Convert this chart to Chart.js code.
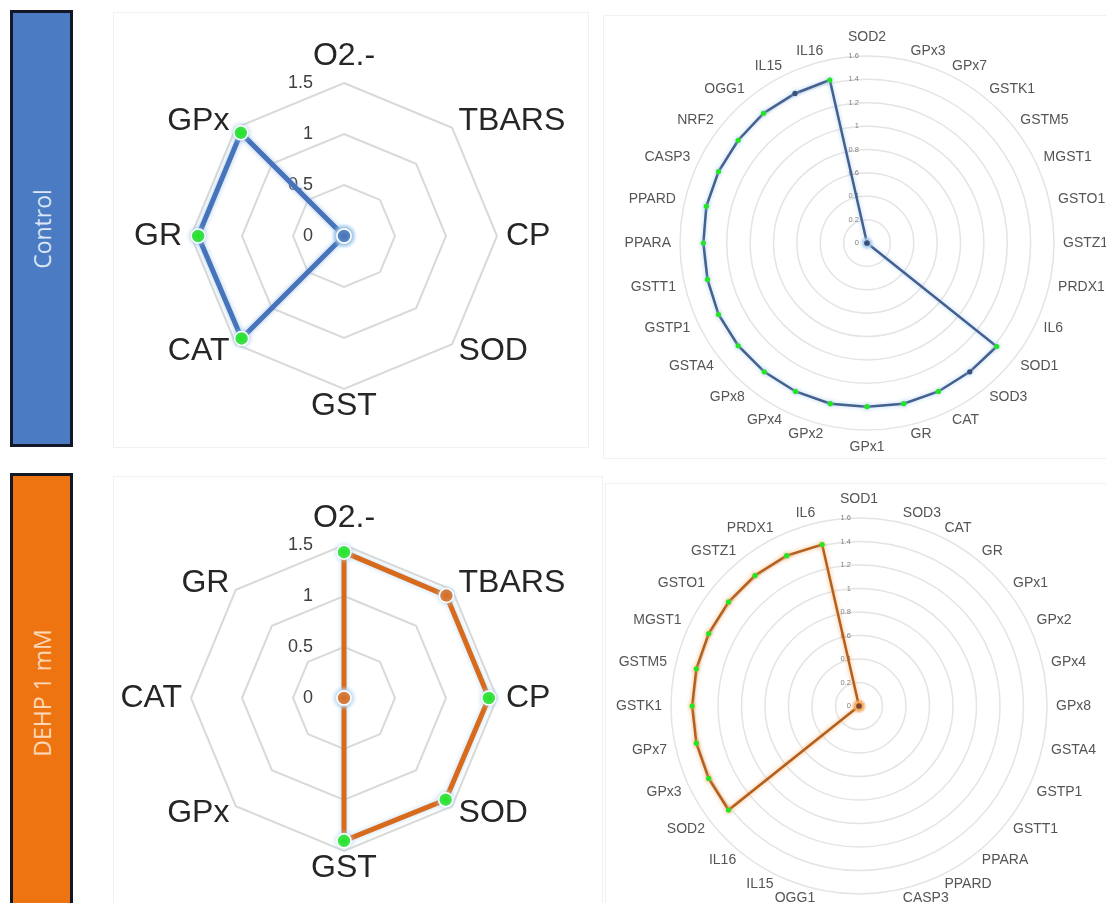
<!DOCTYPE html>
<html>
<head>
<meta charset="utf-8">
<script src="https://cdn.jsdelivr.net/npm/chart.js@4.4.1/dist/chart.umd.min.js"></script>
<style>
  html, body { margin: 0; padding: 0; width: 1106px; height: 903px; overflow: hidden; background: #fff; }
  .panel { position: absolute; border: 1px solid #f1f1f1; box-sizing: border-box; }
  .tag { position: absolute; left: 10px; width: 63px; box-sizing: border-box; border: 3px solid #121826; }
  .tag span { position: absolute; left: 50%; top: 50%; transform: translate(-50%, -50%) rotate(-90deg);
              white-space: nowrap; font-family: 'Open Sans', sans-serif; font-size: 23px; }
  canvas { position: absolute; }
</style>
</head>
<body>
<div class="panel" style="left:113px;top:12px;width:476px;height:436px"></div>
<div class="panel" style="left:603px;top:15px;width:520px;height:444px"></div>
<div class="panel" style="left:113px;top:476px;width:490px;height:440px"></div>
<div class="panel" style="left:605px;top:483px;width:520px;height:440px"></div>

<div class="tag" style="top:10px;height:437px;background:#4A7BC3"><span style="color:#DCE6F4">Control</span></div>
<div class="tag" style="top:473px;height:440px;background:#EE7412"><span style="color:#FCD8B8">DEHP 1 mM</span></div>

<canvas id="ctrlMarkers" width="476" height="436" style="left:113px;top:12px"></canvas>
<canvas id="ctrlGenes" width="540" height="444" style="left:603px;top:15px"></canvas>
<canvas id="dehpMarkers" width="490" height="440" style="left:113px;top:476px"></canvas>
<canvas id="dehpGenes" width="540" height="450" style="left:605px;top:483px"></canvas>

<script>
// ---- Oxidative-stress markers (relative values) ----
const ctrlMarkerLabels = ['O2.-', 'TBARS', 'CP', 'SOD', 'GST', 'CAT', 'GR', 'GPx'];
const ctrlMarkerValues = [0, 0, 0, 0, 0, 1.42, 1.43, 1.43];
const ctrlMarkerSignif = [false, false, false, false, false, true, true, true];

const dehpMarkerLabels = ['O2.-', 'TBARS', 'CP', 'SOD', 'GST', 'GPx', 'CAT', 'GR'];
const dehpMarkerValues = [1.43, 1.42, 1.42, 1.41, 1.40, 0, 0, 0];
const dehpMarkerSignif = [true, false, true, true, true, false, false, false];

// ---- Gene expression (relative values) ----
const ctrlGeneLabels = ['SOD2', 'GPx3', 'GPx7', 'GSTK1', 'GSTM5', 'MGST1', 'GSTO1', 'GSTZ1', 'PRDX1', 'IL6',
  'SOD1', 'SOD3', 'CAT', 'GR', 'GPx1', 'GPx2', 'GPx4', 'GPx8', 'GSTA4', 'GSTP1', 'GSTT1',
  'PPARA', 'PPARD', 'CASP3', 'NRF2', 'OGG1', 'IL15', 'IL16'];
const ctrlGeneValues = [0, 0, 0, 0, 0, 0, 0, 0, 0, 0,
  1.42, 1.41, 1.41, 1.41, 1.40, 1.41, 1.41, 1.41, 1.41, 1.41, 1.40,
  1.40, 1.41, 1.41, 1.41, 1.42, 1.42, 1.43];
const ctrlGeneSignif = [false, false, false, false, false, false, false, false, false, false,
  true, false, true, true, true, true, true, true, true, true, true,
  true, true, true, true, true, false, true];

const dehpGeneLabels = ['SOD1', 'SOD3', 'CAT', 'GR', 'GPx1', 'GPx2', 'GPx4', 'GPx8', 'GSTA4', 'GSTP1',
  'GSTT1', 'PPARA', 'PPARD', 'CASP3', 'NRF2', 'OGG1', 'IL15', 'IL16',
  'SOD2', 'GPx3', 'GPx7', 'GSTK1', 'GSTM5', 'MGST1', 'GSTO1', 'GSTZ1', 'PRDX1', 'IL6'];
const dehpGeneValues = [0, 0, 0, 0, 0, 0, 0, 0, 0, 0,
  0, 0, 0, 0, 0, 0, 0, 0,
  1.42, 1.42, 1.42, 1.42, 1.42, 1.42, 1.42, 1.42, 1.42, 1.41];
const dehpGeneSignif = [false, false, false, false, false, false, false, false, false, false,
  false, false, false, false, false, false, false, false,
  true, true, true, true, true, true, true, true, true, true];

const SIGNIF_GREEN = '#22E622';

// Soft halo around the series line (and its markers)
const glowPlugin = {
  id: 'glow',
  beforeDatasetDraw(chart, args, opts) {
    const c = chart.ctx;
    c.save();
    c.shadowColor = opts.color;
    c.shadowBlur = opts.blur;
  },
  afterDatasetDraw(chart) { chart.ctx.restore(); }
};

// Value labels on the radial axis, set to the left of the vertical spoke, drawn under the series
const tickTextPlugin = {
  id: 'tickText',
  beforeDatasetsDraw(chart, args, opts) {
    const s = chart.scales.r, c = chart.ctx;
    c.save();
    c.font = opts.font;
    c.fillStyle = opts.color;
    c.textAlign = 'right';
    c.textBaseline = 'middle';
    s.ticks.forEach(t => {
      const d = s.getDistanceFromCenterForValue(t.value);
      c.fillText(String(Math.round(t.value * 10) / 10), s.xCenter - opts.gap, s.yCenter - d);
    });
    c.restore();
  }
};

function radar(id, labels, values, signif, st) {
  const n = labels.length;
  return new Chart(document.getElementById(id), {
    type: 'radar',
    data: {
      labels: labels,
      datasets: [{
        data: values,
        fill: false,
        backgroundColor: 'rgba(0,0,0,0)',
        borderColor: st.line,
        borderWidth: st.lineWidth,
        pointRadius: st.pointRadius,
        pointBackgroundColor: signif.map(f => f ? SIGNIF_GREEN : st.point),
        pointBorderColor: st.pointBorder,
        pointBorderWidth: st.pointBorderWidth
      }]
    },
    options: {
      responsive: false,
      animation: false,
      devicePixelRatio: 1,
      layout: { padding: 0 },
      elements: { line: { tension: 0 } },
      plugins: {
        legend: { display: false },
        tooltip: { enabled: false },
        glow: { color: st.glow, blur: st.glowBlur },
        tickText: { font: st.tickFont, color: st.tickColor, gap: st.tickGap }
      },
      scales: {
        r: {
          min: 0,
          max: st.max,
          startAngle: 0,
          ticks: { display: false, stepSize: st.step },
          angleLines: { display: false },
          grid: { color: st.gridColor, lineWidth: st.gridWidth, circular: st.circular },
          pointLabels: {
            color: st.labelColor,
            font: { family: "'Liberation Sans', Arial, sans-serif", size: st.labelSize, lineHeight: '1px' },
            padding: ctx => ctx.index === 0 ? st.padTop : (ctx.index === n / 2 ? st.padBottom : st.padSide)
          },
          afterSetDimensions(s) {
            s.xCenter = st.cx;
            s.yCenter = st.cy;
            s.drawingArea = st.R;
          }
        }
      }
    },
    plugins: [glowPlugin, tickTextPlugin]
  });
}

const markerStyle = {
  max: 1.5, step: 0.5, R: 153, circular: false,
  gridColor: '#d9d9d9', gridWidth: 2,
  labelColor: '#262626', labelSize: 32, padTop: 26, padBottom: 17, padSide: 9,
  tickFont: "18px 'Liberation Sans', Arial, sans-serif", tickColor: '#404040', tickGap: 31,
  lineWidth: 5, pointRadius: 7, pointBorder: '#ffffff', pointBorderWidth: 1.5,
  glowBlur: 5
};
const geneStyle = {
  max: 1.6, step: 0.2, circular: true,
  gridColor: '#e4e4e4', gridWidth: 1.5,
  labelColor: '#555555', labelSize: 14, padTop: 18, padBottom: 17, padSide: 9,
  tickFont: "7.5px 'Liberation Sans', Arial, sans-serif", tickColor: '#7f7f7f', tickGap: 8,
  lineWidth: 2.5, pointRadius: 2.6, pointBorder: 'rgba(0,0,0,0)', pointBorderWidth: 0,
  glowBlur: 4
};

radar('ctrlMarkers', ctrlMarkerLabels, ctrlMarkerValues, ctrlMarkerSignif,
  Object.assign({}, markerStyle, { cx: 231, cy: 224, line: '#4673BA', point: '#4673BA', glow: 'rgba(157,195,230,0.9)' }));
radar('dehpMarkers', dehpMarkerLabels, dehpMarkerValues, dehpMarkerSignif,
  Object.assign({}, markerStyle, { cx: 231, cy: 222, line: '#D86A1C', point: '#D86A1C', glow: 'rgba(180,215,240,0.9)' }));
radar('ctrlGenes', ctrlGeneLabels, ctrlGeneValues, ctrlGeneSignif,
  Object.assign({}, geneStyle, { cx: 264, cy: 228, R: 187, line: '#44608F', point: '#3A4F78', glow: 'rgba(170,205,240,0.9)' }));
radar('dehpGenes', dehpGeneLabels, dehpGeneValues, dehpGeneSignif,
  Object.assign({}, geneStyle, { cx: 254, cy: 223, R: 188, line: '#B3601F', point: '#7A4A2A', glow: 'rgba(245,170,100,0.9)' }));
</script>
</body>
</html>
